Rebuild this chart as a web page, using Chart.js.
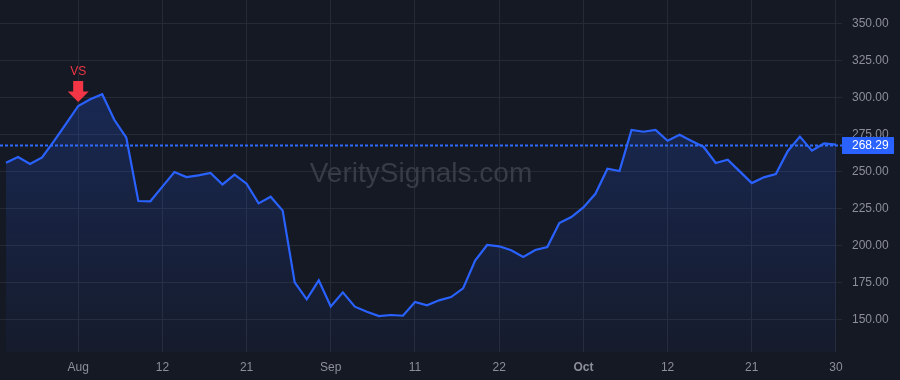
<!DOCTYPE html>
<html>
<head>
<meta charset="utf-8">
<style>
  html, body { margin: 0; background: #151924; }
  canvas { display: block; }
</style>
</head>
<body>
<canvas id="priceChart" width="900" height="380"></canvas>
<script src="https://cdn.jsdelivr.net/npm/chart.js"></script>
<script>
// closing prices, one per session
const prices = [
  256.1, 259.9, 255.2, 259.7, 270.8, 282.5, 294.4, 298.9, 302.3, 285.1,
  273.0, 230.2, 230.0, 239.9, 249.8, 246.4, 247.5, 249.1, 241.4, 248.0,
  241.9, 228.6, 233.1, 223.7, 175.2, 163.8, 176.6, 159.0, 168.5, 158.8,
  155.4, 152.5, 153.2, 152.7, 162.0, 159.7, 163.1, 165.3, 171.2, 189.9,
  200.5, 199.6, 196.9, 192.4, 197.1, 199.1, 215.3, 219.4, 225.9, 235.1,
  252.0, 250.5, 278.2, 277.0, 278.2, 270.9, 275.0, 270.7, 266.7, 255.9,
  258.1, 250.2, 242.3, 246.2, 248.4, 264.0, 273.7, 264.2, 269.1, 268.29
];
// date labels shown on the time axis (session index -> text)
const tickLabels = { 6: 'Aug', 13: '12', 20: '21', 27: 'Sep', 34: '11', 41: '22', 48: 'Oct', 55: '12', 62: '21', 69: '30' };
const monthLabels = ['Aug', 'Sep', 'Oct'];
const priceMin = 128.2;
const priceMax = 366;
const priceStep = 25;
const markers = [{ index: 6, text: 'VS' }];
const watermark = 'VeritySignals.com';

const lastPrice = prices[prices.length - 1];
const FONT = "'Liberation Sans', Arial, sans-serif";
const BLUE = '#2962ff';
const RED = '#f23645';

const overlay = {
  id: 'overlay',
  beforeDatasetsDraw(chart) {
    const { ctx, chartArea: a } = chart;
    ctx.save();
    ctx.font = '28px ' + FONT;
    ctx.fillStyle = '#383c47';
    ctx.textAlign = 'center';
    ctx.textBaseline = 'alphabetic';
    ctx.fillText(watermark, (a.left + a.right) / 2, 181.5);
    ctx.restore();
  },
  afterDatasetsDraw(chart) {
    const { ctx, chartArea: a, scales } = chart;
    const y = Math.round(scales.y.getPixelForValue(lastPrice));
    ctx.save();
    // dotted last-price line
    ctx.fillStyle = '#2f6bff';
    for (let x = a.left; x < a.right; x += 5) {
      ctx.fillRect(x, y - 0.5, 3, 2);
    }

    markers.forEach(m => {
      const x = scales.x.getPixelForValue(m.index);
      const py = scales.y.getPixelForValue(prices[m.index]);
      ctx.fillStyle = RED;
      ctx.beginPath();
      ctx.moveTo(x - 5, py - 25);
      ctx.lineTo(x + 5, py - 25);
      ctx.lineTo(x + 5, py - 14.5);
      ctx.lineTo(x + 10.5, py - 14.5);
      ctx.lineTo(x, py - 4);
      ctx.lineTo(x - 10.5, py - 14.5);
      ctx.lineTo(x - 5, py - 14.5);
      ctx.closePath();
      ctx.fill();
      ctx.font = '12px ' + FONT;
      ctx.textAlign = 'center';
      ctx.textBaseline = 'middle';
      ctx.fillText(m.text, x, py - 34);
    });
    ctx.restore();
  },
  afterDraw(chart) {
    const { ctx, chartArea: a, scales } = chart;
    const y = Math.round(scales.y.getPixelForValue(lastPrice));
    ctx.save();
    ctx.fillStyle = BLUE;
    ctx.fillRect(a.right, y - 8, 52, 17);
    ctx.fillStyle = '#ffffff';
    ctx.font = '12px ' + FONT;
    ctx.textAlign = 'left';
    ctx.textBaseline = 'middle';
    ctx.fillText(lastPrice.toFixed(2), a.right + 10, y + 0.5);
    ctx.restore();
  }
};

const ctx = document.getElementById('priceChart').getContext('2d');
const priceChart = new Chart(ctx, {
  type: 'line',
  data: {
    labels: prices.map((_, i) => i),
    datasets: [{
      data: prices,
      borderColor: BLUE,
      borderWidth: 2.2,
      pointRadius: 0,
      tension: 0,
      fill: 'start',
      backgroundColor(c) {
        const a = c.chart.chartArea;
        if (!a) return 'rgba(41,98,255,0.15)';
        const g = c.chart.ctx.createLinearGradient(0, a.top, 0, a.bottom);
        g.addColorStop(0, 'rgba(41,98,255,0.28)');
        g.addColorStop(1, 'rgba(41,98,255,0.04)');
        return g;
      }
    }]
  },
  options: {
    responsive: false,
    animation: false,
    layout: { padding: 0 },
    plugins: { legend: { display: false }, tooltip: { enabled: false } },
    scales: {
      x: {
        type: 'category',
        offset: true,
        border: { display: false },
        grid: { offset: false, color: '#262a35', drawTicks: false },
        ticks: {
          autoSkip: false,
          maxRotation: 0,
          padding: 8,
          color: '#8c8f99',
          font: c => ({ family: FONT, size: 12, weight: monthLabels.includes(tickLabels[c.index]) ? 'bold' : 'normal' }),
          callback: (v, i) => tickLabels[i] ?? null
        },
        afterFit(s) { s.height = 28; s.paddingLeft = 0; s.paddingRight = 0; }
      },
      y: {
        position: 'right',
        min: priceMin,
        max: priceMax,
        border: { display: false },
        grid: { color: '#262a35', drawTicks: false },
        ticks: {
          stepSize: priceStep,
          includeBounds: false,
          padding: 10,
          color: '#8c8f99',
          font: { family: FONT, size: 12 },
          callback: v => v.toFixed(2)
        },
        afterFit(s) { s.width = 58; s.paddingTop = 0; s.paddingBottom = 0; }
      }
    }
  },
  plugins: [overlay]
});
</script>
</body>
</html>
